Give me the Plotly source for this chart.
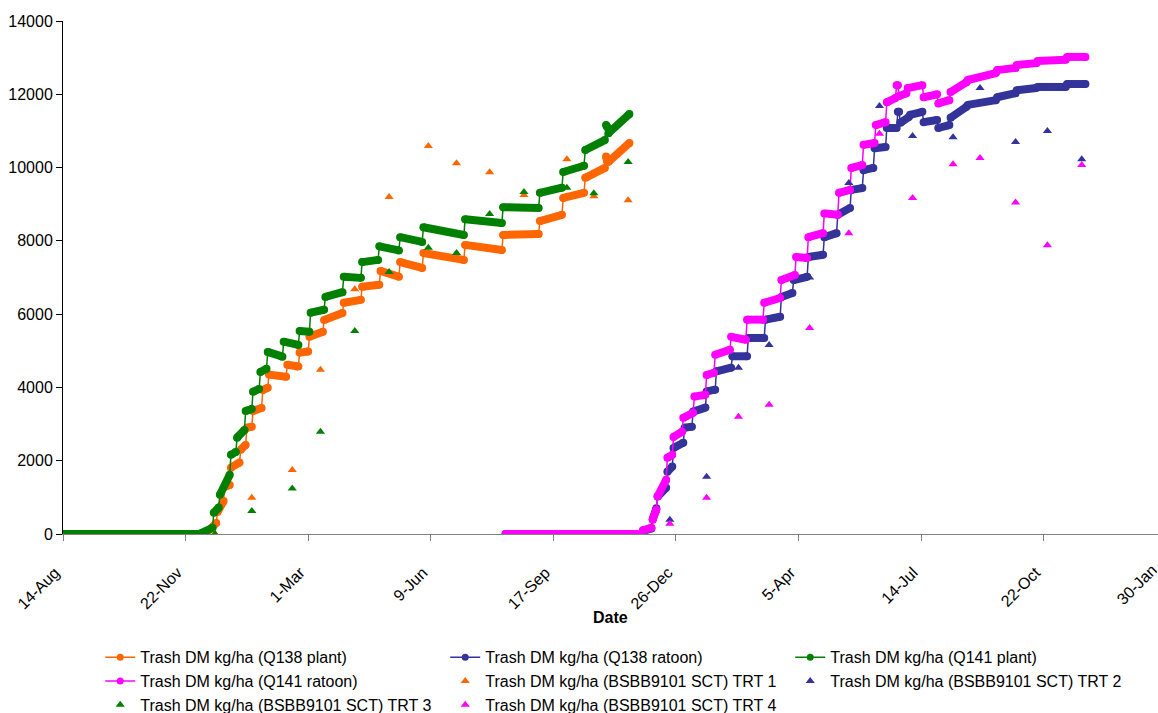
import pandas as pd
import plotly.graph_objects as go

day0 = pd.Timestamp("1995-08-14")

# trash curves, days after 14-Aug-1995; each pair of entries = first and last day of one step
q138_plant_day = [0, 116, 117, 125, 126, 131, 132, 136, 137, 144, 145, 149, 150, 154, 155, 162,
                  163, 167, 168, 182, 183, 192, 193, 200, 201, 212, 213, 228, 229, 243, 244, 258,
                  259, 274, 275, 293, 294, 327, 328, 358, 359, 388, 389, 407, 408, 425, 426, 442,
                  443, 444, 445, 462]
q138_plant_kg = [0, 0, 30, 300, 600, 900, 1290, 1340, 1810, 1950, 2300, 2430, 2900, 2930, 3360, 3440,
                 3930, 3990, 4350, 4290, 4620, 4570, 4950, 4980, 5380, 5520, 5840, 6030, 6310, 6390,
                 6750, 6800, 7180, 7020, 7420, 7260, 7670, 7480, 7890, 7750, 8160, 8190, 8540, 8710,
                 9170, 9310, 9720, 9990, 10300, 10150, 10160, 10670]

q138_ratoon_day = [361, 470, 473, 480, 481, 484, 485, 492, 493, 497, 498, 506, 507, 513, 514, 524,
                   525, 532, 533, 545, 546, 558, 559, 572, 573, 585, 586, 595, 596, 607, 608, 620,
                   621, 631, 632, 642, 643, 652, 653, 661, 662, 671, 672, 680, 681, 682, 683, 690,
                   691, 701, 702, 713, 714, 723, 724, 737, 738, 761, 762, 777, 778, 794, 795, 818,
                   819, 834]
q138_ratoon_kg = [0, 0, 80, 150, 400, 700, 1020, 1260, 1700, 1840, 2350, 2490, 2900, 2930, 3340, 3450,
                  3890, 3940, 4440, 4540, 4850, 4850, 5350, 5350, 5850, 5930, 6470, 6580, 6930, 7020,
                  7560, 7620, 8100, 8210, 8710, 8900, 9390, 9440, 9930, 9990, 10530, 10560, 11080,
                  11080, 11520, 11520, 11220, 11380, 11440, 11520, 11240, 11300, 11080, 11160, 11360,
                  11660, 11710, 11840, 11920, 12030, 12110, 12170, 12200, 12200, 12280, 12280]

q141_plant_day = [0, 112, 113, 122, 123, 127, 128, 136, 137, 141, 142, 148, 149, 154, 155, 160,
                  161, 166, 167, 179, 180, 192, 193, 201, 202, 213, 214, 228, 229, 243, 244, 257,
                  258, 274, 275, 293, 294, 327, 328, 358, 359, 388, 389, 407, 408, 425, 426, 442,
                  443, 444, 445, 462]
q141_plant_kg = [0, 0, 30, 170, 580, 720, 1070, 1620, 2160, 2240, 2630, 2840, 3360, 3410, 3880, 3960,
                 4420, 4510, 4970, 4840, 5250, 5160, 5540, 5520, 6040, 6120, 6470, 6600, 7020, 6990,
                 7420, 7480, 7850, 7740, 8100, 7970, 8370, 8160, 8590, 8490, 8920, 8900, 9310, 9450,
                 9880, 10050, 10480, 10750, 11160, 11100, 10940, 11460]

q141_ratoon_day = [361, 470, 473, 480, 481, 484, 485, 492, 493, 497, 498, 505, 506, 514, 515, 524,
                   525, 531, 532, 544, 545, 557, 558, 571, 572, 585, 586, 597, 598, 607, 608, 620,
                   621, 632, 633, 642, 643, 652, 653, 662, 663, 671, 672, 679, 680, 681, 682, 688,
                   689, 701, 702, 713, 714, 723, 724, 737, 738, 761, 762, 777, 778, 794, 795, 818,
                   819, 834]
q141_ratoon_kg = [0, 0, 100, 170, 390, 660, 1020, 1480, 2080, 2160, 2650, 2790, 3170, 3310, 3750, 3800,
                  4340, 4400, 4890, 5030, 5380, 5300, 5850, 5850, 6310, 6440, 6930, 7070, 7560, 7530,
                  8100, 8210, 8750, 8710, 9310, 9390, 9990, 10070, 10620, 10670, 11160, 11240, 11780,
                  11900, 12250, 12250, 11950, 12030, 12170, 12250, 11920, 12000, 11750, 11840, 12060,
                  12330, 12390, 12580, 12660, 12720, 12800, 12850, 12910, 12940, 13020, 13020]

# BSBB9101 SCT measured samples
plant_trt_day = [124, 154, 187, 210, 238, 266, 298, 321, 348, 376, 411, 433, 461]
trt1_kg = [0, 990, 1750, 4480, 6680, 9200, 10590, 10120, 9870, 9250, 10230, 9220, 9110]
trt3_kg = [0, 630, 1240, 2790, 5540, 7150, 7810, 7670, 8730, 9330, 9450, 9300, 10150]
ratoon_trt_day = [495, 525, 551, 576, 609, 641, 666, 693, 726, 748, 777, 803, 831]
trt2_kg = [390, 1560, 4540, 5160, 7000, 9580, 11680, 10860, 10830, 12170, 10700, 11000, 10230]
trt4_kg = [280, 990, 3200, 3530, 5620, 8210, 10920, 9170, 10090, 10260, 9050, 7880, 10070]


def dates(days):
    return [day0 + pd.Timedelta(days=d) for d in days]


def add_curve(fig, days, kg, name, color):
    x = dates(days)
    fig.add_trace(go.Scatter(x=x, y=kg, name=name, mode="lines+markers",
                             line=dict(color=color, width=1.5),
                             marker=dict(color=color, size=7)))
    # thick daily markers drawn as one fat stroke per step
    bx, by = [], []
    for i in range(0, len(x), 2):
        bx += [x[i], x[i + 1], None]
        by += [kg[i], kg[i + 1], None]
    fig.add_trace(go.Scatter(x=bx, y=by, mode="lines+markers", showlegend=False,
                             line=dict(color=color, width=8),
                             marker=dict(color=color, size=8)))


fig = go.Figure()
add_curve(fig, q138_plant_day, q138_plant_kg, "Trash DM kg/ha (Q138 plant)", "#FF6600")
add_curve(fig, q138_ratoon_day, q138_ratoon_kg, "Trash DM kg/ha (Q138 ratoon)", "#333399")
add_curve(fig, q141_plant_day, q141_plant_kg, "Trash DM kg/ha (Q141 plant)", "#008000")
add_curve(fig, q141_ratoon_day, q141_ratoon_kg, "Trash DM kg/ha (Q141 ratoon)", "#FF00FF")

for days, kg, name, color in [
    (plant_trt_day, trt1_kg, "Trash DM kg/ha (BSBB9101 SCT) TRT 1", "#FF6600"),
    (ratoon_trt_day, trt2_kg, "Trash DM kg/ha (BSBB9101 SCT) TRT 2", "#333399"),
    (plant_trt_day, trt3_kg, "Trash DM kg/ha (BSBB9101 SCT) TRT 3", "#008000"),
    (ratoon_trt_day, trt4_kg, "Trash DM kg/ha (BSBB9101 SCT) TRT 4", "#FF00FF"),
]:
    fig.add_trace(go.Scatter(x=dates(days), y=kg, name=name, mode="markers",
                             marker=dict(color=color, size=8, symbol="triangle-up")))

font = "Liberation Sans, Arial, sans-serif"
fig.update_layout(
    width=1158, height=713,
    margin=dict(l=63, r=0, t=21, b=179),
    paper_bgcolor="white", plot_bgcolor="white",
    font=dict(family=font, size=16, color="black"),
    showlegend=True,
    legend=dict(orientation="h", xref="paper", x=0.034, xanchor="left",
                yref="container", y=0.102, yanchor="top",
                entrywidth=300, entrywidthmode="pixels", font=dict(size=16)),
    xaxis=dict(
        type="date", range=[day0, day0 + pd.Timedelta(days=893.2)],
        tick0=day0, dtick=100 * 86400000, tickformat="%-d-%b", tickangle=-45,
        ticklabelstandoff=16, ticklabelshift=-8,
        showline=True, linecolor="#808080", ticks="outside", tickcolor="#808080", ticklen=6,
        showgrid=False, zeroline=False, automargin=False,
    ),
    yaxis=dict(
        range=[0, 14000], dtick=2000, tickformat="d", showline=True, linecolor="black",
        ticks="outside", tickcolor="black", ticklen=6,
        showgrid=False, zeroline=False,
    ),
    annotations=[
        dict(text="<b>Date</b>", xref="paper", yref="paper", x=0.5, y=0,
             xanchor="center", yanchor="middle", yshift=-83, showarrow=False,
             font=dict(size=16)),
        dict(text="30-Jan", xref="paper", yref="paper", x=1.0073, y=0,
             xanchor="right", yanchor="top", yshift=-24, xshift=-3, textangle=-45,
             showarrow=False, font=dict(size=16)),
    ],
)

fig.write_html("out.html", config={"displayModeBar": False},
               post_script="document.body.style.margin='0';")
